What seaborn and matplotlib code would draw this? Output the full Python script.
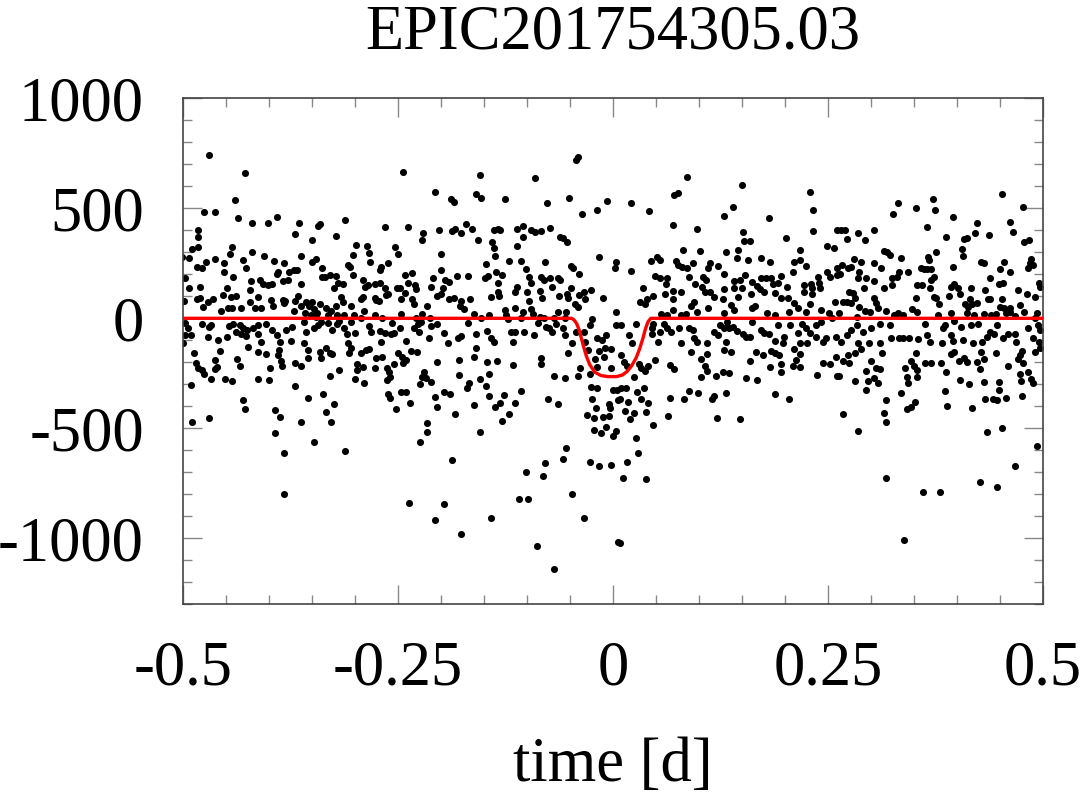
import matplotlib
matplotlib.use("Agg")
import matplotlib.pyplot as plt
import seaborn as sns
import pandas as pd
from matplotlib.ticker import MultipleLocator, FixedLocator

# ---------------- data (time [d], flux [ppm]) ----------------
pts_upper_left = [
(-0.469,741),(-0.428,660),(-0.439,536),(-0.475,485),(-0.463,485),(-0.436,457),(-0.420,435),(-0.401,432),(-0.391,459),(-0.365,435),(-0.341,427),(-0.343,421),(-0.369,382),(-0.350,357),(-0.311,445),(-0.322,374),(-0.265,417),(-0.482,401),(-0.482,371),(-0.482,326),(-0.489,315),(-0.501,280),(-0.493,276),(-0.443,323),(-0.445,292),(-0.462,268),(-0.430,265),(-0.419,303),(-0.406,285),(-0.394,262),(-0.382,250),(-0.363,285),(-0.350,257),(-0.345,268),(-0.338,227),(-0.308,242),(-0.306,235),(-0.299,333),(-0.302,288),(-0.286,329),(-0.283,295),(-0.282,257),(-0.262,250),(-0.253,326),(-0.250,291),(-0.483,235),(-0.478,227),(-0.473,257),(-0.497,185),(-0.493,139),(-0.480,141),(-0.452,250),(-0.452,212),(-0.442,189),(-0.427,227),(-0.421,171),(-0.410,174),(-0.407,154),(-0.401,151),(-0.396,154),(-0.390,200),(-0.389,212),(-0.384,170),(-0.378,174),(-0.376,212),(-0.371,220),(-0.367,220),(-0.363,154),(-0.338,189),(-0.335,189),(-0.329,197),(-0.322,194),(-0.324,139),(-0.319,159),(-0.314,156),(-0.302,197),(-0.290,174),(-0.288,141),(-0.285,151),(-0.277,154),(-0.271,159),(-0.271,220),(-0.270,235),(-0.265,139),(-0.251,139),
(-0.499,80),(-0.484,88),(-0.480,91),(-0.477,53),(-0.471,73),(-0.465,86),(-0.456,33),(-0.453,106),(-0.449,139),(-0.444,98),(-0.438,100),(-0.448,45),(-0.443,45),(-0.432,45),(-0.422,130),(-0.422,76),(-0.413,98),(-0.416,45),(-0.409,48),(-0.398,83),(-0.395,57),(-0.384,83),(-0.382,68),(-0.381,79),(-0.369,79),(-0.366,103),(-0.363,57),(-0.371,33),(-0.357,76),(-0.353,57),(-0.350,73),(-0.348,41),(-0.344,23),(-0.341,64),(-0.333,45),(-0.328,33),(-0.322,57),(-0.316,95),(-0.314,76),(-0.305,57),(-0.293,88),(-0.290,98),(-0.289,33),(-0.277,91),(-0.275,83),(-0.272,79),(-0.264,106),(-0.261,109),
(-0.497,-23),(-0.494,-46),(-0.497,-76),(-0.490,-76),(-0.500,-114),(-0.478,-27),(-0.469,-38),(-0.467,-30),(-0.471,-83),(-0.459,-98),(-0.449,-83),(-0.446,-35),(-0.442,-27),(-0.438,-61),(-0.434,-30),(-0.430,-42),(-0.432,-71),(-0.425,-53),(-0.426,-79),(-0.418,-46),(-0.413,-73),(-0.412,-30),(-0.403,-27),(-0.396,-53),(-0.391,-76),(-0.387,-106),(-0.380,-53),(-0.373,-41),(-0.374,-103),(-0.359,-15),(-0.357,-61),(-0.359,-114),(-0.347,-42),(-0.343,-30),(-0.339,-15),(-0.331,-23),(-0.327,-53),(-0.321,-27),(-0.318,-12),(-0.312,-46),(-0.309,-73),(-0.300,-68),(-0.305,-18),(-0.293,0),(-0.284,-35),(-0.281,-61),(-0.271,-58),(-0.265,-68),(-0.258,-73),(-0.254,-68),(-0.257,-20),(-0.358,23),(-0.351,15),(-0.345,8),(-0.331,15),(-0.321,15),(-0.313,15),(-0.301,15),(-0.277,15),(-0.268,3),(-0.409,-106),(-0.269,-106),(-0.308,-114),
]

pts_lower_left = [
(-0.487,-159),(-0.485,-205),(-0.482,-224),(-0.478,-235),(-0.475,-253),(-0.491,-303),(-0.489,-473),(-0.467,-276),(-0.469,-452),(-0.463,-190),(-0.463,-230),(-0.460,-220),(-0.457,-149),(-0.451,-276),(-0.443,-284),(-0.437,-185),(-0.434,-217),(-0.430,-371),(-0.428,-412),(-0.424,-129),(-0.413,-155),(-0.412,-276),(-0.403,-164),(-0.399,-224),(-0.400,-280),(-0.393,-418),(-0.387,-449),(-0.393,-523),(-0.382,-614),(-0.382,-799),(-0.389,-167),(-0.388,-144),(-0.386,-194),(-0.385,-215),(-0.370,-306),(-0.369,-205),(-0.363,-215),(-0.362,-473),(-0.355,-143),(-0.354,-182),(-0.355,-364),(-0.347,-561),(-0.340,-155),(-0.339,-179),(-0.333,-137),(-0.329,-159),(-0.326,-164),(-0.329,-261),(-0.337,-343),(-0.333,-427),(-0.324,-391),(-0.328,-470),(-0.318,-235),(-0.311,-602),(-0.307,-159),(-0.304,-137),(-0.300,-276),(-0.297,-209),(-0.297,-235),(-0.293,-159),(-0.290,-220),(-0.289,-293),(-0.287,-144),(-0.283,-140),(-0.277,-224),(-0.275,-179),(-0.268,-174),(-0.263,-224),(-0.260,-243),(-0.259,-265),(-0.263,-280),(-0.261,-346),(-0.259,-364),(-0.252,-412),(-0.255,-209),(-0.250,-159),
]

pts_upper_midleft = [
(-0.244,664),(-0.207,576),(-0.188,541),(-0.185,530),(-0.159,567),(-0.153,545),(-0.155,651),(-0.125,542),(-0.090,639),(-0.077,524),(-0.051,548),(-0.043,720),(-0.040,733),(-0.036,476),(-0.019,492),(-0.007,535),(-0.238,415),(-0.221,388),(-0.222,357),(-0.202,403),(-0.200,291),(-0.187,397),(-0.183,406),(-0.177,388),(-0.171,427),(-0.164,406),(-0.157,357),(-0.140,348),(-0.138,318),(-0.137,285),(-0.138,400),(-0.134,406),(-0.131,403),(-0.112,406),(-0.104,421),(-0.105,371),(-0.111,330),(-0.095,401),(-0.091,391),(-0.083,397),(-0.073,409),(-0.061,368),(-0.058,364),(-0.053,345),(-0.016,280),(0.004,257),(0.002,227),
(-0.242,197),(-0.233,208),(-0.247,139),(-0.238,159),(-0.230,151),(-0.229,133),(-0.242,114),(-0.233,88),(-0.246,88),(-0.231,64),(-0.216,57),(-0.209,182),(-0.211,144),(-0.200,220),(-0.195,174),(-0.190,164),(-0.198,139),(-0.204,103),(-0.200,109),(-0.181,192),(-0.168,194),(-0.190,88),(-0.185,91),(-0.176,79),(-0.178,57),(-0.173,42),(-0.166,88),(-0.147,245),(-0.149,182),(-0.145,194),(-0.136,212),(-0.129,197),(-0.133,159),(-0.134,121),(-0.132,103),(-0.142,98),(-0.121,260),(-0.107,260),(-0.101,224),(-0.097,189),(-0.095,159),(-0.111,144),(-0.114,121),(-0.100,121),(-0.097,79),(-0.079,254),(-0.084,189),(-0.080,174),(-0.085,124),(-0.082,94),(-0.073,185),(-0.071,142),(-0.064,182),(-0.061,174),(-0.063,103),(-0.053,109),(-0.052,94),(-0.049,139),(-0.049,239),(-0.046,227),(-0.039,200),(-0.039,106),(-0.034,118),(-0.025,129),(-0.032,88),(-0.044,64),(-0.041,53),(-0.012,91),(0.004,30),(0.004,-30),(-0.125,38),(-0.114,45),(-0.124,15),(-0.095,42),(-0.093,18),(-0.105,27),(-0.064,27),(-0.055,27),(-0.085,8),
(-0.246,18),(-0.229,3),(-0.222,18),(-0.213,3),(-0.161,18),(-0.153,3),(-0.144,15),(-0.122,-3),(-0.107,3),(-0.080,3),(-0.068,3),(-0.056,3),
(-0.247,-46),(-0.240,-103),(-0.227,-27),(-0.223,-15),(-0.225,-61),(-0.231,-46),(-0.211,-33),(-0.204,-27),(-0.214,-91),(-0.196,-68),(-0.192,-114),(-0.180,-88),(-0.176,-79),(-0.169,-23),(-0.159,-73),(-0.146,-58),(-0.142,-91),(-0.138,-106),(-0.118,-64),(-0.114,-64),(-0.103,-64),(-0.116,-106),(-0.092,-76),(-0.087,-23),(-0.078,-38),(-0.074,-46),(-0.071,-64),(-0.066,-27),(-0.058,-46),(-0.056,-76),(-0.047,-114),(-0.043,-61),(-0.033,-61),(-0.027,-30),(-0.024,-3),(-0.018,-88),(-0.013,-98),(-0.008,-76),(-0.032,-109),
]

pts_lower_midleft = [
(-0.235,-149),(-0.228,-155),(-0.245,-174),(-0.241,-190),(-0.244,-205),(-0.220,-246),(-0.222,-265),(-0.217,-273),(-0.224,-300),(-0.212,-288),(-0.246,-337),(-0.240,-334),(-0.236,-387),(-0.216,-477),(-0.216,-515),(-0.224,-561),(-0.204,-200),(-0.207,-356),(-0.205,-402),(-0.196,-334),(-0.189,-346),(-0.183,-435),(-0.179,-190),(-0.179,-258),(-0.187,-643),(-0.237,-841),(-0.196,-846),(-0.207,-915),(-0.176,-979),(-0.142,-906),(-0.162,-174),(-0.159,-137),(-0.167,-296),(-0.170,-318),(-0.162,-394),(-0.155,-276),(-0.155,-518),(-0.146,-200),(-0.144,-255),(-0.147,-306),(-0.144,-353),(-0.135,-194),(-0.127,-349),(-0.131,-387),(-0.137,-402),(-0.121,-435),(-0.129,-467),(-0.114,-387),(-0.116,-212),(-0.107,-329),(-0.084,-182),(-0.083,-209),(-0.075,-367),(-0.068,-262),(-0.056,-270),(-0.064,-390),(-0.052,-159),(-0.041,-261),(-0.038,-224),(-0.055,-588),(-0.058,-640),(-0.079,-659),(-0.081,-718),(-0.101,-697),(-0.109,-821),(-0.099,-821),(-0.048,-800),(-0.034,-906),(-0.088,-1033),(-0.068,-1140),(-0.027,-652),(-0.016,-670),(-0.002,-667),(0.006,-1018),
(-0.029,-144),(-0.016,-149),(-0.009,-137),(-0.002,-140),(-0.010,-174),(-0.021,-185),(-0.018,-220),(-0.002,-227),(-0.027,-255),(-0.025,-311),(-0.019,-315),(-0.024,-367),(-0.020,-409),(-0.005,-391),(-0.003,-406),(0.000,-326),(0.005,-326),(0.006,-371),(-0.030,-440),(-0.022,-452),(-0.011,-447),(-0.005,-443),(-0.008,-493),(-0.022,-508),(-0.014,-523),(0.000,-533),(0.004,-512),
]

pts_upper_midright = [
(0.086,641),(0.071,560),(0.076,568),(0.150,606),(0.229,576),(0.021,523),(0.042,488),(0.140,507),(0.129,467),(0.233,494),(0.070,424),(0.098,406),(0.181,454),(0.151,391),(0.153,353),(0.159,351),(0.201,367),(0.233,397),(0.081,310),(0.101,306),(0.131,303),(0.145,311),(0.144,273),(0.172,273),(0.218,311),(0.249,329),(0.257,318),(0.261,401),(0.044,261),(0.051,280),(0.055,265),(0.021,215),(0.073,261),(0.076,242),(0.080,235),(0.093,250),(0.086,227),(0.088,189),(0.113,250),(0.111,227),(0.122,239),(0.129,200),(0.157,265),(0.183,257),(0.209,212),(0.211,254),(0.217,265),(0.224,238),(0.249,212),(0.253,189),(0.260,227),(0.049,194),(0.055,185),(0.063,185),(0.062,155),(0.035,136),(0.047,103),(0.040,88),(0.031,76),(0.037,64),(0.070,126),(0.079,121),(0.061,109),(0.070,88),(0.095,155),(0.105,189),(0.108,174),(0.104,144),(0.107,121),(0.113,121),(0.117,98),(0.129,133),(0.128,88),(0.094,73),(0.091,57),(0.098,30),(0.111,45),(0.141,170),(0.148,174),(0.154,197),(0.141,136),(0.150,139),(0.145,98),(0.161,109),(0.165,57),(0.162,45),(0.137,61),(0.141,38),(0.162,167),(0.167,148),(0.171,133),(0.176,121),(0.172,182),(0.178,182),(0.184,182),(0.186,155),(0.192,159),(0.195,194),(0.189,114),(0.195,94),(0.204,91),(0.202,144),(0.211,68),(0.205,30),(0.222,151),(0.222,118),(0.230,154),(0.231,136),(0.232,109),(0.239,189),(0.240,159),(0.241,136),(0.229,64),(0.242,38),(0.258,73),(0.261,197),(0.224,30),(0.251,23),(0.255,3),(0.179,23),(0.188,15),(0.129,23),(0.215,45),(0.056,18),(0.063,15),(0.085,18),(0.070,38),(0.079,15),
(0.010,-30),(0.019,-76),(0.022,-114),(0.027,-27),(0.047,-27),(0.046,-73),(0.052,-106),(0.055,-61),(0.059,-27),(0.068,-64),(0.077,-46),(0.088,-46),(0.079,-114),(0.094,-91),(0.098,-106),(0.093,-53),(0.110,-114),(0.118,-61),(0.122,-76),(0.124,-30),(0.129,-46),(0.133,-15),(0.135,-46),(0.140,-38),(0.131,-106),(0.144,-58),(0.151,-73),(0.155,-83),(0.160,-83),(0.162,-15),(0.172,-53),(0.176,-68),(0.182,-73),(0.188,-103),(0.192,-30),(0.199,-83),(0.198,-114),(0.206,-30),(0.215,-68),(0.218,-114),(0.220,-27),(0.225,-46),(0.229,-68),(0.226,-114),(0.236,-83),(0.244,-106),(0.248,-91),(0.259,-83),(0.236,-30),(0.242,-15),(0.045,-46),(0.063,-46),
]

pts_lower_midright = [
(0.009,-167),(0.013,-197),(0.016,-215),(0.030,-209),(0.033,-227),(0.037,-240),(0.041,-215),(0.049,-190),(0.025,-265),(0.010,-315),(0.015,-318),(0.008,-367),(0.028,-334),(0.033,-367),(0.036,-318),(0.041,-387),(0.018,-382),(0.014,-421),(0.025,-432),(0.020,-458),(0.039,-424),(0.047,-485),(0.027,-546),(0.029,-614),(0.016,-655),(0.012,-727),(0.038,-730),(0.008,-1020),(0.066,-212),(0.071,-230),(0.066,-361),(0.064,-444),(0.083,-367),(0.088,-330),(0.099,-340),(0.091,-152),(0.109,-164),(0.107,-215),(0.109,-240),(0.102,-185),(0.102,-265),(0.115,-367),(0.118,-352),(0.121,-452),(0.120,-261),(0.128,-243),(0.135,-250),(0.131,-341),(0.129,-144),(0.137,-152),(0.148,-458),(0.155,-270),(0.159,-194),(0.168,-279),(0.166,-152),(0.174,-167),(0.183,-220),(0.195,-209),(0.196,-246),(0.189,-159),(0.193,-167),(0.184,-149),(0.188,-343),(0.205,-367),(0.211,-140),(0.218,-164),(0.213,-190),(0.209,-215),(0.218,-220),(0.237,-258),(0.244,-205),(0.253,-209),(0.259,-174),(0.261,-261),
]

pts_upper_right = [
(0.452,564),(0.372,541),(0.332,526),(0.374,492),(0.352,500),(0.326,473),(0.477,507),(0.395,459),(0.365,415),(0.423,432),(0.462,439),(0.465,394),(0.265,401),(0.270,401),(0.272,361),(0.285,386),(0.293,356),(0.303,401),(0.387,371),(0.408,361),(0.412,367),(0.421,389),(0.437,379),(0.478,348),(0.484,356),(0.406,315),(0.407,285),(0.315,307),(0.319,300),(0.322,288),(0.335,276),(0.366,280),(0.368,265),(0.376,303),(0.365,224),(0.395,235),(0.280,270),(0.288,257),(0.303,250),(0.264,200),(0.266,242),(0.273,227),(0.277,235),(0.286,212),(0.285,185),(0.312,227),(0.333,212),(0.330,189),(0.325,185),(0.343,212),(0.358,227),(0.362,224),(0.370,224),(0.373,189),(0.370,174),(0.428,254),(0.431,250),(0.438,185),(0.450,224),(0.455,254),(0.462,209),(0.486,270),(0.485,250),(0.489,242),(0.483,227),(0.495,159),(0.497,144),(0.294,182),(0.303,170),(0.315,136),(0.292,136),(0.275,121),(0.279,114),(0.281,94),(0.267,73),(0.272,76),(0.277,68),(0.263,23),(0.286,53),(0.293,33),(0.299,27),(0.303,94),(0.306,68),(0.308,48),(0.324,151),(0.353,151),(0.359,151),(0.352,94),(0.369,136),(0.373,98),(0.376,91),(0.379,64),(0.393,144),(0.397,155),(0.401,136),(0.391,103),(0.404,109),(0.416,139),(0.415,88),(0.409,64),(0.413,53),(0.418,64),(0.423,68),(0.433,129),(0.436,88),(0.439,88),(0.449,155),(0.454,159),(0.452,88),(0.450,53),(0.455,48),(0.462,45),(0.471,129),(0.473,61),(0.481,109),(0.491,98),(0.493,23),(0.318,33),(0.327,15),(0.331,23),(0.337,15),(0.348,42),(0.354,30),(0.378,15),(0.393,23),(0.412,23),(0.420,15),(0.431,18),(0.440,15),(0.445,18),(0.457,23),(0.462,30),(0.468,12),(0.478,30),(0.491,3),(0.284,8),
(0.265,-106),(0.272,-76),(0.277,-53),(0.284,-30),(0.285,-114),(0.291,-61),(0.300,-46),(0.298,-114),(0.310,-114),(0.311,-27),(0.322,-30),(0.323,-91),(0.333,-88),(0.337,-91),(0.344,-88),(0.355,-94),(0.363,-27),(0.365,-76),(0.369,-106),(0.384,-46),(0.386,-30),(0.383,-114),(0.397,-12),(0.393,-76),(0.395,-103),(0.405,-38),(0.407,-98),(0.416,-30),(0.419,-114),(0.424,-27),(0.429,-106),(0.435,-83),(0.439,-64),(0.443,-73),(0.447,-30),(0.454,-91),(0.459,-73),(0.467,-73),(0.469,-106),(0.483,-46),(0.488,-91),(0.494,-30),(0.497,-53),(0.495,-106),
]

pts_lower_right = [
(0.268,-194),(0.274,-205),(0.263,-261),(0.268,-437),(0.273,-167),(0.282,-159),(0.289,-140),(0.285,-512),(0.282,-285),(0.294,-240),(0.297,-285),(0.294,-326),(0.300,-194),(0.306,-227),(0.311,-230),(0.304,-270),(0.308,-296),(0.313,-159),(0.317,-371),(0.315,-432),(0.317,-473),(0.318,-727),(0.339,-1006),(0.335,-341),(0.340,-227),(0.342,-265),(0.343,-296),(0.347,-194),(0.350,-215),(0.353,-235),(0.354,-265),(0.352,-159),(0.342,-412),(0.347,-402),(0.351,-379),(0.360,-788),(0.363,-205),(0.370,-205),(0.380,-788),(0.382,-205),(0.387,-243),(0.386,-330),(0.389,-399),(0.393,-164),(0.397,-155),(0.402,-194),(0.408,-179),(0.412,-200),(0.404,-280),(0.414,-300),(0.417,-406),(0.423,-200),(0.427,-230),(0.431,-185),(0.431,-288),(0.427,-746),(0.428,-152),(0.433,-367),(0.435,-515),(0.442,-367),(0.447,-371),(0.449,-326),(0.449,-291),(0.445,-159),(0.447,-768),(0.452,-497),(0.457,-361),(0.459,-215),(0.467,-670),(0.471,-185),(0.473,-167),(0.476,-149),(0.473,-255),(0.475,-285),(0.477,-205),(0.476,-353),(0.483,-246),(0.486,-276),(0.489,-296),(0.491,-155),(0.496,-134),(0.493,-579),
]

# transit model curve (red)
model_time = [-0.5, -0.048, -0.045, -0.042, -0.039, -0.035, -0.031, -0.027, -0.021, -0.014, -0.006, 0.004, 0.011, 0.017, 0.022, 0.027, 0.031, 0.035, 0.038, 0.041, 0.044, 0.5]
model_flux = [0, 0, -8, -25, -55, -115, -170, -210, -245, -260, -265, -265, -258, -240, -215, -180, -140, -90, -46, -15, 0, 0]

x_ticks = [-0.5, -0.25, 0, 0.25, 0.5]
x_tick_labels = ["-0.5", "-0.25", "0", "0.25", "0.5"]
y_ticks = [-1000, -500, 0, 500, 1000]
y_tick_labels = ["-1000", "-500", "0", "500", "1000"]

title = "EPIC201754305.03"
x_label = "time [d]"

# ---------------- plotting ----------------
all_pts = (pts_upper_left + pts_lower_left + pts_upper_midleft + pts_lower_midleft
           + pts_upper_midright + pts_lower_midright + pts_upper_right + pts_lower_right)
df = pd.DataFrame(all_pts, columns=["time", "flux"])
model = pd.DataFrame({"time": model_time, "flux": model_flux})

sns.set_theme(style="ticks")
plt.rcParams['font.family'] = ['Liberation Serif', 'DejaVu Serif']
plt.rcParams['axes.unicode_minus'] = False
plt.rcParams['text.color'] = 'black'
plt.rcParams['axes.labelcolor'] = 'black'

fig = plt.figure(figsize=(10.88, 7.94), dpi=100)
ax = fig.add_axes([0.168, 0.2389, 0.7906, 0.6373])

sns.scatterplot(data=df, x="time", y="flux", ax=ax, s=26, color="black",
                linewidth=0, zorder=2, legend=False)
sns.lineplot(data=model, x="time", y="flux", ax=ax, color="#ff0000", lw=2.4,
             sort=False, zorder=3, legend=False)

ax.set_xlim(-0.5, 0.5)
ax.set_ylim(-1300, 1000)
ax.xaxis.set_major_locator(FixedLocator(x_ticks))
ax.set_xticklabels(x_tick_labels)
ax.xaxis.set_minor_locator(MultipleLocator(0.05))
ax.yaxis.set_major_locator(FixedLocator(y_ticks))
ax.set_yticklabels(y_tick_labels)
ax.yaxis.set_minor_locator(MultipleLocator(100))

ax.tick_params(which="both", direction="in", top=True, right=True,
               colors="#888888", labelcolor="black", labelsize=45)
ax.tick_params(which="major", length=13.7, width=1.0)
ax.tick_params(which="minor", length=6.7, width=1.0)
ax.tick_params(axis="x", which="both", pad=26)
ax.tick_params(axis="y", which="both", pad=28)
for sp in ax.spines.values():
    sp.set_color("#444444")
    sp.set_linewidth(1.2)

ax.set_xlabel(x_label, fontsize=45, labelpad=28, color="black")
ax.set_ylabel("")
ax.set_title(title, fontsize=45, pad=36, color="black")

fig.savefig("out.png", dpi=100)
